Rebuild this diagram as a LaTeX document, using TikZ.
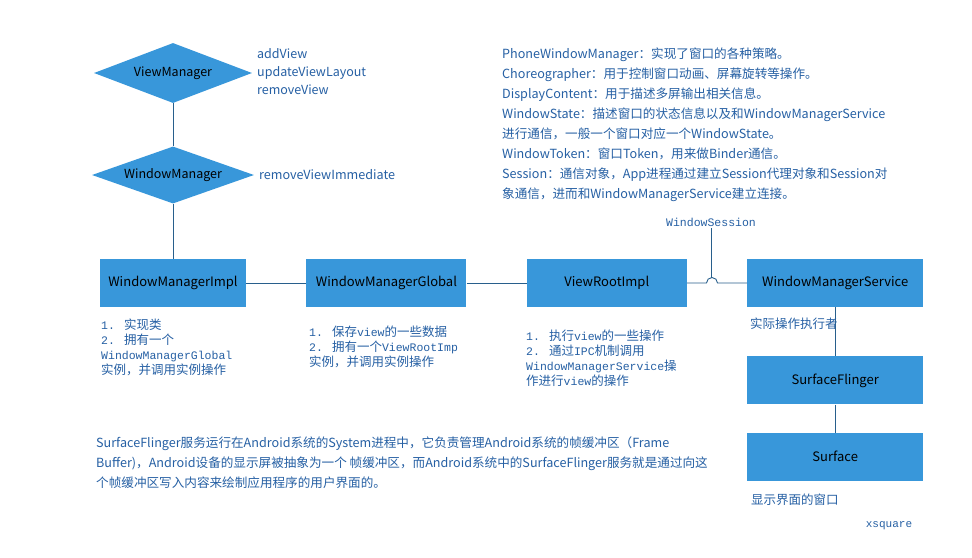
\documentclass[tikz,border=0pt]{standalone}
\usepackage{fontspec}
\setmainfont{Noto Sans CJK SC}
\newfontfamily\monofont{Liberation Mono}[Scale=0.92]
\usetikzlibrary{positioning}
\usetikzlibrary{shapes.geometric}

\definecolor{cajaazul}{RGB}{56,151,218}
\definecolor{textoazul}{RGB}{38,96,164}
\definecolor{lineaazul}{RGB}{40,95,140}
\newcommand{\mon}[1]{{\monofont #1}}
\newcommand{\num}[1]{\mon{#1.}\hspace{9pt}}

\tikzset{
  rombo/.style={diamond, aspect=2.7, fill=cajaazul, minimum width=158pt, minimum height=60pt, inner sep=0pt, font=\fontsize{12.5}{14}\selectfont},
  caja/.style={rectangle, fill=cajaazul, minimum height=48pt, inner sep=0pt, font=\fontsize{13}{15}\selectfont},
  nota/.style={text=textoazul, align=left, inner sep=0pt, anchor=north west, font=\fontsize{12.5}{15}\selectfont},
  texto/.style={text=textoazul, align=left, inner sep=0pt, anchor=north west, font=\fontsize{12.6}{20}\selectfont},
  enlace/.style={draw=lineaazul, line width=0.9pt},
}

\begin{document}
\begin{tikzpicture}[x=1pt, y=-1pt]
\fill[white] (0,0) rectangle (972,557);
\useasboundingbox (0,0) rectangle (972,557);

% Rombos
\node [rombo] at (173,73) (vm) {ViewManager};
\node [rombo, minimum width=162pt, minimum height=57pt] at (173,175) (wm) {WindowManager};

% Cajas
\node [caja, minimum width=146pt] at (173,283) (wmi) {WindowManagerImpl};
\node [caja, minimum width=160pt, right=60pt of wmi] (wmg) {WindowManagerGlobal};
\node [caja, minimum width=160pt, right=60pt of wmg] (vri) {ViewRootImpl};
\node [caja, minimum width=176pt, right=60pt of vri] (wms) {WindowManagerService};
\node [caja, minimum width=176pt, below=49pt of wms] (sf) {SurfaceFlinger};
\node [caja, minimum width=176pt, below=28pt of sf] (sfc) {Surface};

% Metodos
\node [texto, font=\fontsize{12.5}{18}\selectfont] at (257,48) (met) {addView\\updateViewLayout\\removeView};
\node [texto, anchor=west] at (259,175) (rvi) {removeViewImmediate};
\node [text=textoazul, inner sep=2pt, font=\monofont\fontsize{12.5}{14}\selectfont] at (711,222) (ws) {WindowSession};

% Conexiones
\coordinate (salto) at ([xshift=19.5pt]vri.east);
\coordinate (cima) at (711,278);
\draw[enlace] (vm.south) -- (wm.north);
\draw[enlace] (wm.south) -- (wmi.north);
\draw[enlace] (wmi.east) -- (wmg.west);
\draw[enlace] (wmg.east) -- (vri.west);
\draw[enlace] (vri.east) -- (salto) arc[start angle=180, end angle=0, radius=5.5pt] -- (wms.west);
\draw[enlace] (ws.south) -- (cima);
\draw[enlace] (wms.south) -- (sf.north);
\draw[enlace] (sf.south) -- (sfc.north);

% Notas
\node [nota] at (101,319) (n1) {\num{1}实现类\\\num{2}拥有一个\\\mon{WindowManagerGlobal}\\实例，并调用实例操作};
\node [nota] at (309,326) (n2) {\num{1}保存\mon{view}的一些数据\\\num{2}拥有一个\mon{ViewRootImp}\\实例，并调用实例操作};
\node [nota] at (526,330) (n3) {\num{1}执行\mon{view}的一些操作\\\num{2}通过\mon{IPC}机制调用\\\mon{WindowManagerService}操\\作进行\mon{view}的操作};
\node [nota] at (750,318) (n4) {实际操作执行者};
\node [nota] at (751,494) (n5) {显示界面的窗口};
\node [text=textoazul, inner sep=0pt, font=\monofont\fontsize{12}{14}\selectfont] at (889,526) (firma) {xsquare};

% Textos
\node [texto] at (502,48) (clases) {PhoneWindowManager：实现了窗口的各种策略。\\
Choreographer：用于控制窗口动画、屏幕旋转等操作。\\
DisplayContent：用于描述多屏输出相关信息。\\
WindowState：描述窗口的状态信息以及和WindowManagerService\\
进行通信，一般一个窗口对应一个WindowState。\\
WindowToken：窗口Token，用来做Binder通信。\\
Session：通信对象，App进程通过建立Session代理对象和Session对\\
象通信，进而和WindowManagerService建立连接。};
\node [texto] at (96,437) (parrafo) {SurfaceFlinger服务运行在Android系统的System进程中，它负责管理Android系统的帧缓冲区（Frame\\
Buffer)，Android设备的显示屏被抽象为一个 帧缓冲区，而Android系统中的SurfaceFlinger服务就是通过向这\\
个帧缓冲区写入内容来绘制应用程序的用户界面的。};

\end{tikzpicture}
\end{document}
